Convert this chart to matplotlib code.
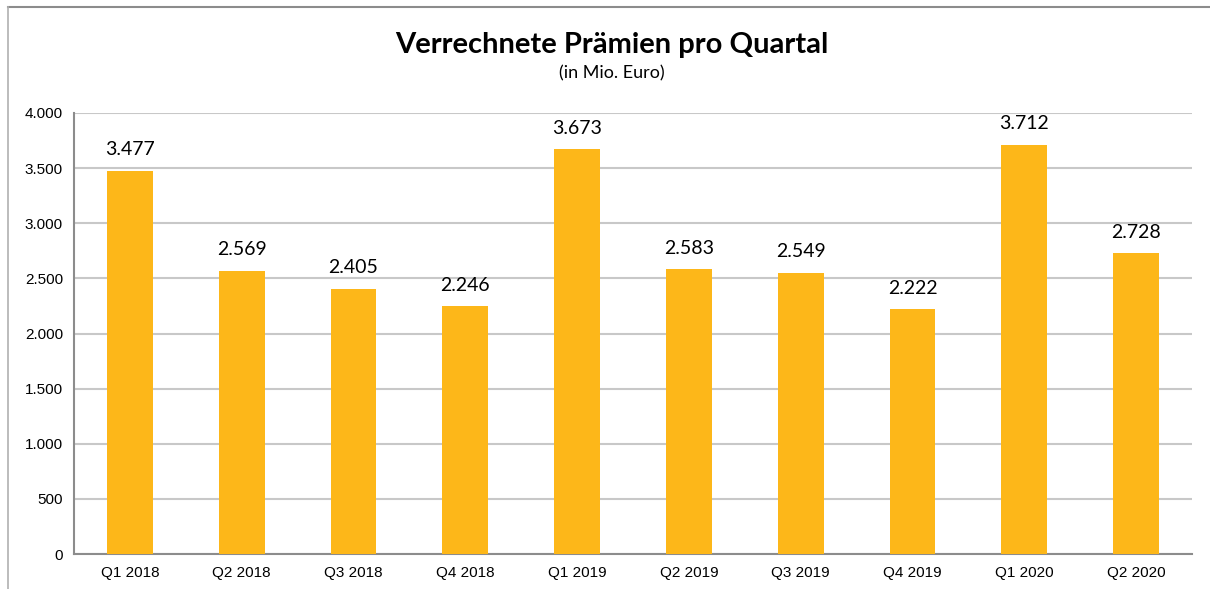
import matplotlib
matplotlib.use("Agg")
import matplotlib.pyplot as plt
from matplotlib.lines import Line2D
from matplotlib.ticker import FuncFormatter

categories = ["Q1 2018", "Q2 2018", "Q3 2018", "Q4 2018", "Q1 2019",
              "Q2 2019", "Q3 2019", "Q4 2019", "Q1 2020", "Q2 2020"]
values = [3477, 2569, 2405, 2246, 3673, 2583, 2549, 2222, 3712, 2728]
yticks = [0, 500, 1000, 1500, 2000, 2500, 3000, 3500, 4000]

W, H = 1210, 589
fig = plt.figure(figsize=(W / 100, H / 100), dpi=100)
ax = fig.add_axes([74 / W, 1 - 554 / H, (1192 - 74) / W, (554 - 113) / H])

x = list(range(len(categories)))
ax.bar(x, values, width=0.41, color="#FDB719", zorder=3)
ax.set_xlim(-0.5, len(categories) - 0.5)
ax.set_ylim(0, 4000)
ax.set_yticks(yticks)
ax.yaxis.set_major_formatter(FuncFormatter(lambda v, p: f"{int(v):,}".replace(",", ".")))
ax.set_xticks(x)
ax.set_xticklabels(categories)
ax.grid(axis="y", color="#C8C8C8", linewidth=1.5, zorder=0)
for s in ["top", "right"]:
    ax.spines[s].set_visible(False)
ax.spines["left"].set_color("#8C8C8C")
ax.spines["bottom"].set_color("#8C8C8C")
ax.spines["left"].set_linewidth(1.5)
ax.spines["bottom"].set_linewidth(1.5)
ax.tick_params(axis="both", length=0, labelsize=11, labelcolor="#000000")
for lab in ax.get_xticklabels() + ax.get_yticklabels():
    lab.set_fontfamily("Liberation Sans")
ax.tick_params(axis="x", pad=9)
ax.tick_params(axis="y", pad=8)

for xi, v in zip(x, values):
    ax.annotate(f"{v:,}".replace(",", "."), (xi, v), xytext=(0, 9),
                textcoords="offset points", ha="center", va="bottom",
                fontsize=14, family="Lato")

fig.text(612 / W, 1 - 45 / H, "Verrechnete Prämien pro Quartal", ha="center",
         va="center", fontsize=21, fontweight="bold", family="Lato")
fig.text(612 / W, 1 - 73 / H, "(in Mio. Euro)", ha="center", va="center",
         fontsize=13, family="Lato")

fig.add_artist(Line2D([8 / W, 1], [1 - 7 / H, 1 - 7 / H], color="#8C8C8C",
                      linewidth=1.5, transform=fig.transFigure))
fig.add_artist(Line2D([8 / W, 8 / W], [0, 1 - 7 / H], color="#B0B0B0",
                      linewidth=1.2, transform=fig.transFigure))

fig.savefig("out.png", dpi=100)
